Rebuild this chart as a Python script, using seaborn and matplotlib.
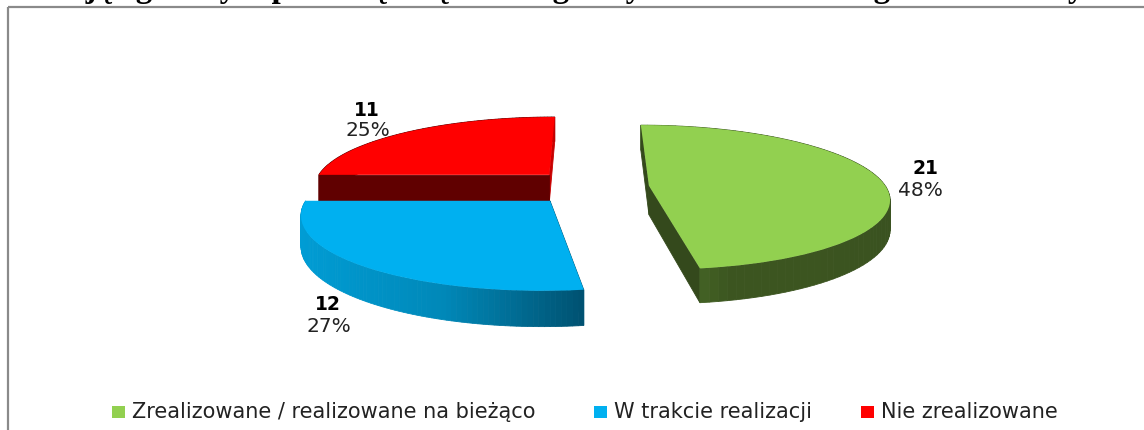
import numpy as np
import matplotlib.pyplot as plt
from matplotlib.colors import LinearSegmentedColormap
from matplotlib.patches import Rectangle
from matplotlib.transforms import Transform
import seaborn as sns

# dane z wykresu
labels = ["Zrealizowane / realizowane na bieżąco", "W trakcie realizacji", "Nie zrealizowane"]
values = [21, 12, 11]
percents = ["48%", "27%", "25%"]
colors = ["#92D050", "#00B0F0", "#FF0000"]
title_text = "działając głównym przedsięwzięć strategicznych w ostatnim regionie oddziaływa"

sns.set_theme(style="white")

# rzut perspektywiczny, wszystko w pikselach obrazka
CX, CY, RX, RY, K, DEPTH = 590, 187, 237, 70.7, 0.16, 29


def project(u, v, z=0.0):
    s = 1 / (1 + K * np.asarray(v))
    return CX + RX * np.asarray(u) * s, CY - (RY * np.asarray(v) - DEPTH * z) * s


class Persp(Transform):
    input_dims = output_dims = 2
    is_affine = False

    def transform_non_affine(self, xy):
        x, y = project(xy[:, 0], xy[:, 1])
        return np.column_stack([x, y])


side_maps = [
    LinearSegmentedColormap.from_list("g", ["#507C2C", "#3C5520", "#3C5520", "#3A5220"]),
    LinearSegmentedColormap.from_list("b", ["#009CD4", "#0088B8", "#00506F"]),
    LinearSegmentedColormap.from_list("r", ["#600000", "#600000"]),
]
# kolory scian promieniowych (theta1, theta2)
face_colors = [("#34491C", "#34491C"), ("#005A7C", "#005A7C"), ("#C80000", "#600000")]

fig = plt.figure(figsize=(11.44, 4.30), dpi=100)
ax = fig.add_axes([0, 0, 1, 1])
wedges, _ = ax.pie(values, colors=colors, startangle=90, counterclock=False,
                   explode=[0.25, 0.25, 0.25], radius=1, frame=True)
ax.set_aspect("auto")
ax.axis("off")
persp = Persp() + ax.transData


def draw_sides(w, cmap, faces):
    cu, cv = w.center
    th = np.radians(np.linspace(w.theta1, w.theta2, 90))
    u, v = cu + np.cos(th), cv + np.sin(th)
    xr = project(u, v)[0]
    x0, x1 = xr.min(), xr.max()
    quads = []
    for i in range(len(th) - 1):
        uq, vq = [u[i], u[i + 1], u[i + 1], u[i]], [v[i], v[i + 1], v[i + 1], v[i]]
        px, py = project(uq, vq, np.array([0, 0, 1, 1]))
        mid = (xr[i] - x0) / max(x1 - x0, 1)
        quads.append((np.mean(vq), px, py, cmap(mid)))
    for end, face in zip((0, -1), faces):
        uq, vq = [cu, u[end], u[end], cu], [cv, v[end], v[end], cv]
        px, py = project(uq, vq, np.array([0, 0, 1, 1]))
        quads.append((np.mean(vq), px, py, face))
    for _, px, py, c in sorted(quads, key=lambda q: -q[0]):
        ax.fill(px, py, color=c, lw=0.6, zorder=2)


# czerwony i zielony najpierw, niebieski przykrywa dolna krawedz czerwonego
for i in (2, 0, 1):
    w = wedges[i]
    draw_sides(w, side_maps[i], face_colors[i])
    w.set_transform(persp)
    w.set_zorder(3)
    w.set_edgecolor("none")
wedges[1].set_zorder(4)
ax.set_xlim(0, 1144)
ax.set_ylim(430, 0)

# ramka obszaru wykresu
ax.add_patch(Rectangle((8, 7), 1200, 500, fc="none", ec="#8A8A8A", lw=1.6, zorder=1))

# ucieta gora tytulu (w oryginale tez jest obcieta)
ax.text(2, -2.5, title_text, family="Liberation Serif", weight="bold", fontsize=23.6,
        ha="left", va="baseline", color="black", clip_on=False)

# etykiety danych
label_pos = [(925, 169, 920, 191), (328, 305, 329, 326), (367, 110, 368, 131)]
for val, pct, (x1, y1, x2, y2) in zip(values, percents, label_pos):
    ax.text(x1, y1, str(val), fontsize=13.5, weight="bold", ha="center", va="center", color="black", family="DejaVu Sans")
    ax.text(x2, y2, pct, fontsize=14.5, ha="center", va="center", color="#222222", family="DejaVu Sans")

# legenda
legend_x = [(112, 132), (594, 614), (861, 881)]
for lab, c, (xs, xt) in zip(labels, colors, legend_x):
    ax.add_patch(Rectangle((xs, 406), 13, 12, fc=c, ec="none"))
    ax.text(xt, 412, lab, fontsize=15, ha="left", va="center", color="#222222", family="DejaVu Sans")

fig.savefig("out.png", dpi=100)
